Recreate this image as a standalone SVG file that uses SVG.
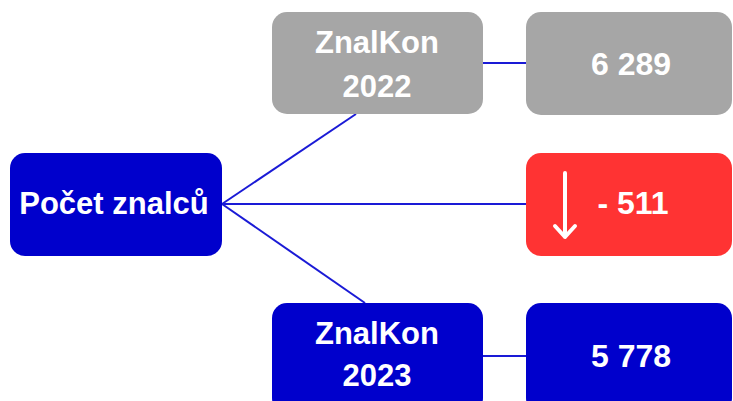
<svg xmlns="http://www.w3.org/2000/svg" width="733" height="401" viewBox="0 0 733 401">
<style>
.blue{fill:#0000cc}
.gray{fill:#a6a6a6}
.red{fill:#ff3333}
.t{font-family:"Liberation Sans",Arial,sans-serif;font-weight:bold;fill:#ffffff;text-anchor:middle}
.c{stroke:#1a1ad6;stroke-width:2;fill:none}
</style>
<rect width="733" height="401" fill="#ffffff"/>
<g id="connectors">
<line class="c" x1="222" y1="204" x2="356" y2="114"/>
<line class="c" x1="222" y1="204" x2="526" y2="204"/>
<line class="c" x1="222" y1="204" x2="365" y2="303"/>
<line class="c" x1="483" y1="63" x2="526" y2="63"/>
<line class="c" x1="483" y1="356" x2="526" y2="356"/>
</g>
<g id="pocet">
<rect class="blue" x="10" y="153" width="212" height="103" rx="15"/>
<text class="t" x="114" y="214" font-size="31">Počet znalců</text>
</g>
<g id="znalkon2022">
<rect class="gray" x="272" y="12" width="211" height="102" rx="15"/>
<text class="t" x="377" y="53" font-size="31">ZnalKon</text>
<text class="t" x="377" y="97" font-size="31">2022</text>
</g>
<g id="v2022">
<rect class="gray" x="526" y="12" width="206" height="103" rx="15"/>
<text class="t" x="631" y="75" font-size="32">6 289</text>
</g>
<g id="diff">
<rect class="red" x="526" y="153" width="206" height="103" rx="15"/>
<path d="M565 173 V237 M555 226 L565 237 L575 226" stroke="#ffffff" stroke-width="4" fill="none" stroke-linecap="round" stroke-linejoin="round"/>
<text class="t" x="633" y="214" font-size="32">- 511</text>
</g>
<g id="znalkon2023">
<rect class="blue" x="272" y="303" width="211" height="110" rx="15"/>
<text class="t" x="377" y="344" font-size="31">ZnalKon</text>
<text class="t" x="377" y="386" font-size="31">2023</text>
</g>
<g id="v2023">
<rect class="blue" x="526" y="303" width="206" height="110" rx="15"/>
<text class="t" x="631" y="367" font-size="32">5 778</text>
</g>
</svg>
